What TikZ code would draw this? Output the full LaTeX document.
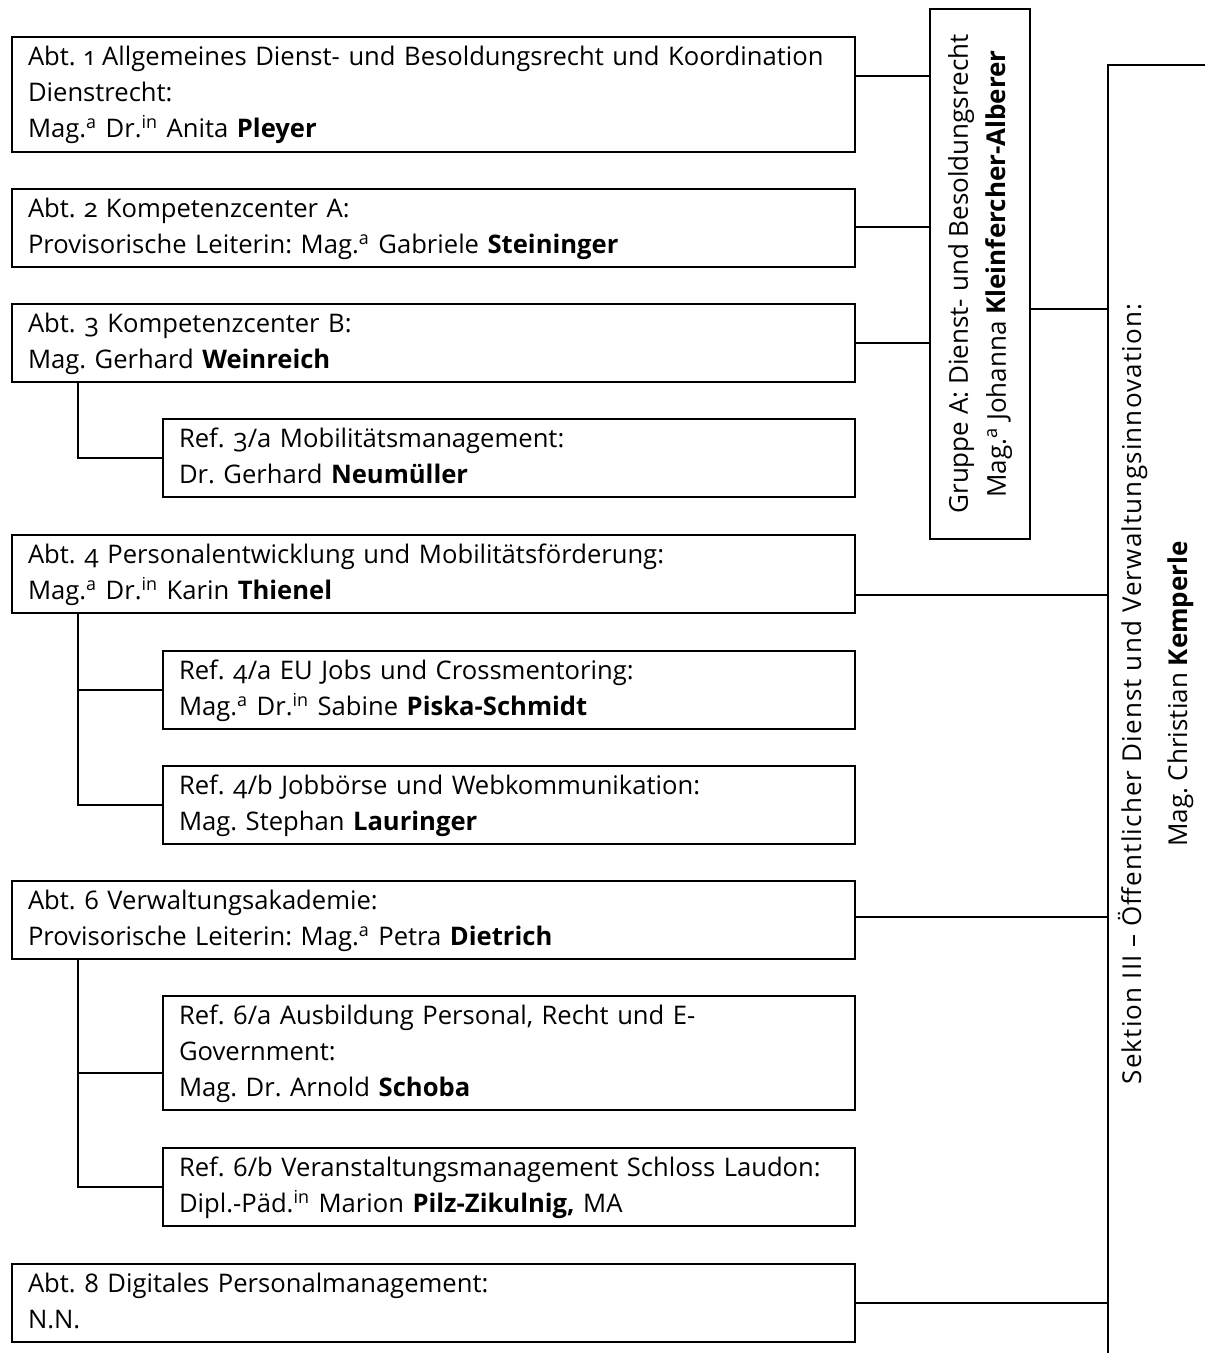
\documentclass[tikz,border=0pt]{standalone}
\usepackage{fontspec}
\setmainfont{Open Sans}[Numbers=OldStyle]
\frenchspacing
\newcommand\ml[1]{\begin{tabular}{@{}l@{}}#1\end{tabular}}
\newcommand\sa{\textsuperscript{a}}
\newcommand\supin{\textsuperscript{in}}
\newcommand\orgfont{\fontsize{12.8}{18}\selectfont}
\newcommand\grpfont{\fontsize{13}{19}\selectfont}
\newcommand\sekfont{\fontsize{13}{23}\selectfont}
\begin{document}
\begin{tikzpicture}[x=0.5pt,y=-0.5pt,
  box/.style={draw, line width=1pt, anchor=north west, inner xsep=8pt, inner ysep=0pt, align=left, font=\orgfont},
  mainbox/.style={box, text width=405.5pt},
  refbox/.style={box, text width=330pt},
  two/.style={minimum height=39pt},
  three/.style={minimum height=57.5pt},
  conn/.style={line width=1.3pt}]
\useasboundingbox (0,0) rectangle (1205,1353);
% boxes
\node[mainbox, three] (a1) at (11,36) {\ml{Abt. 1 Allgemeines Dienst- und Besoldungsrecht und Koordination\\Dienstrecht:\\Mag.\sa{} Dr.\supin{} Anita \textbf{Pleyer}}};
\node[mainbox, two] (a2) at (11,188) {\ml{Abt. 2 Kompetenzcenter A:\\Provisorische Leiterin: Mag.\sa{} Gabriele \textbf{Steininger}}};
\node[mainbox, two] (a3) at (11,303) {\ml{Abt. 3 Kompetenzcenter B:\\Mag. Gerhard \textbf{Weinreich}}};
\node[refbox, two] (r3a) at (162,418) {\ml{Ref. 3/a Mobilitätsmanagement:\\Dr. Gerhard \textbf{Neumüller}}};
\node[mainbox, two] (a4) at (11,534) {\ml{Abt. 4 Personalentwicklung und Mobilitätsförderung:\\Mag.\sa{} Dr.\supin{} Karin \textbf{Thienel}}};
\node[refbox, two] (r4a) at (162,650) {\ml{Ref. 4/a EU Jobs und Crossmentoring:\\Mag.\sa{} Dr.\supin{} Sabine \textbf{Piska-Schmidt}}};
\node[refbox, two] (r4b) at (162,765) {\ml{Ref. 4/b Jobbörse und Webkommunikation:\\Mag. Stephan \textbf{Lauringer}}};
\node[mainbox, two] (a6) at (11,880) {\ml{Abt. 6 Verwaltungsakademie:\\Provisorische Leiterin: Mag.\sa{} Petra \textbf{Dietrich}}};
\node[refbox, minimum height=57pt] (r6a) at (162,995) {\ml{Ref. 6/a Ausbildung Personal, Recht und E-\\Government:\\Mag. Dr. Arnold \textbf{Schoba}}};
\node[refbox, two] (r6b) at (162,1147) {\ml{Ref. 6/b Veranstaltungsmanagement Schloss Laudon:\\Dipl.-Päd.\supin{} Marion \textbf{Pilz-Zikulnig,} MA}};
\node[mainbox, two] (a8) at (11,1263) {\ml{Abt. 8 Digitales Personalmanagement:\\N.N.}};
% group box
\node[draw, line width=1pt, rotate=90, minimum width=265pt, minimum height=50pt, inner sep=0pt, align=center, font=\grpfont] (g) at (980,274)
  {Gruppe A: Dienst- und Besoldungsrecht\\Mag.\sa{} Johanna \textbf{Kleinfercher-Alberer}};
% section
\node[rotate=90, inner sep=0pt, font=\sekfont] (sek) at (1155,694)
  {\begin{tabular}{@{}c@{}}{\addfontfeature{LetterSpace=4.5}Sektion III – Öffentlicher Dienst und Verwaltungsinnovation:}\\Mag. Christian \textbf{Kemperle}\end{tabular}};
\coordinate (sr) at (1205,65);
\coordinate (st) at (1108,65);
\coordinate (sb) at (1108,1353);
\draw[conn] (sr) -- (st) -- (sb);
% helper coordinates
\coordinate (v) at (78,0);
\coordinate (h1) at (0,76);
\coordinate (h2) at (0,227);
\coordinate (h3) at (0,343);
\coordinate (hg) at (0,309);
\coordinate (h4) at (0,595);
\coordinate (h6) at (0,917);
\coordinate (h8) at (0,1303);
\coordinate (h6a) at (0,1073);
% connectors
\draw[conn] (a1.east |- h1) -- (g.north |- h1);
\draw[conn] (a2.east |- h2) -- (g.north |- h2);
\draw[conn] (a3.east |- h3) -- (g.north |- h3);
\draw[conn] (g.south |- hg) -- (st |- hg);
\draw[conn] (a4.east |- h4) -- (st |- h4);
\draw[conn] (a6.east |- h6) -- (st |- h6);
\draw[conn] (a8.east |- h8) -- (st |- h8);
\draw[conn] (a3.south -| v) |- (r3a.west);
\draw[conn] (a4.south -| v) |- (r4b.west);
\draw[conn] (v |- r4a.west) -- (r4a.west);
\draw[conn] (a6.south -| v) |- (r6b.west);
\draw[conn] (v |- h6a) -- (r6a.west |- h6a);
\end{tikzpicture}
\end{document}
